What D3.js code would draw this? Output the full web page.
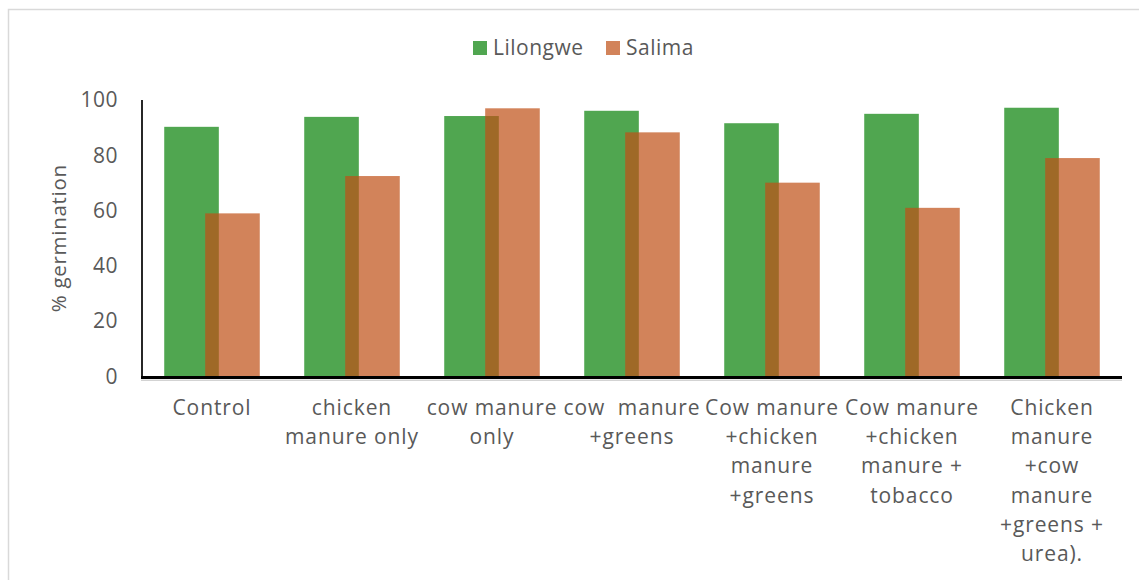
<!DOCTYPE html>
<html>
<head>
<meta charset="utf-8">
<script src="https://cdn.jsdelivr.net/npm/d3@7/dist/d3.min.js"></script>
<style>
  html, body { margin: 0; padding: 0; background: #fff; }
  svg { display: block; }
  text { font-family: "Open Sans", "Noto Sans", sans-serif; fill: #595959; }
</style>
</head>
<body>
<svg id="chart" width="1139" height="580"></svg>
<script>
// Treatments (x categories), each label split into its display lines
const categories = [
  "Control",
  "chicken manure only",
  "cow manure only",
  "cow  manure +greens",
  "Cow manure +chicken manure +greens",
  "Cow manure +chicken manure + tobacco",
  "Chicken manure +cow manure +greens + urea)."
];
const categoryLines = [
  ["Control"],
  ["chicken", "manure only"],
  ["cow manure", "only"],
  ["cow  manure", "+greens"],
  ["Cow manure", "+chicken", "manure", "+greens"],
  ["Cow manure", "+chicken", "manure +", "tobacco"],
  ["Chicken", "manure", "+cow", "manure", "+greens +", "urea)."]
];

// % germination by site
const seriesNames = ["Lilongwe", "Salima"];
const lilongwe = [90.3, 93.9, 94.2, 96.1, 91.6, 95.0, 97.2];
const salima   = [59.0, 72.5, 97.0, 88.3, 70.1, 61.0, 79.0];
const yTicks = [0, 20, 40, 60, 80, 100];

const colors = { Lilongwe: "rgb(80,166,80)", Salima: "rgb(192,81,23)" };
const salimaOpacity = 0.71;

const svg = d3.select("#chart");

// chart area frame
svg.append("rect")
  .attr("x", 8.5).attr("y", 9.5)
  .attr("width", 1400).attr("height", 900)
  .attr("fill", "none").attr("stroke", "#d9d9d9").attr("stroke-width", 1.5);

const plot = { left: 142, right: 1122, top: 100, bottom: 376.5 };

const x = d3.scaleBand().domain(categories).range([plot.left, plot.right]).padding(0);
const y = d3.scaleLinear().domain([0, 100]).range([plot.bottom, plot.top]);

const barW = x.bandwidth() * 0.39;
const step = barW * 0.75;            // bars overlap by a quarter of their width
const groupW = barW + step;

// Lilongwe bars
svg.append("g").selectAll("rect")
  .data(lilongwe)
  .join("rect")
  .attr("x", (d, i) => x(categories[i]) + x.bandwidth() / 2 - groupW / 2)
  .attr("y", d => y(d))
  .attr("width", barW)
  .attr("height", d => y(0) - y(d))
  .attr("fill", colors.Lilongwe);

// Salima bars, semi-transparent on top
svg.append("g").selectAll("rect")
  .data(salima)
  .join("rect")
  .attr("x", (d, i) => x(categories[i]) + x.bandwidth() / 2 - groupW / 2 + step)
  .attr("y", d => y(d))
  .attr("width", barW)
  .attr("height", d => y(0) - y(d))
  .attr("fill", colors.Salima)
  .attr("fill-opacity", salimaOpacity);

// y axis
const yAxis = svg.append("g")
  .attr("transform", `translate(${plot.left},0)`)
  .call(d3.axisLeft(y).tickValues(yTicks).tickSize(0).tickPadding(24).tickFormat(d3.format("d")));
yAxis.select(".domain").attr("stroke", "#000").attr("stroke-width", 1.7)
  .attr("d", `M0,${plot.top}V${plot.bottom + 1}`);
yAxis.selectAll("text")
  .style("font-size", "21px")
  .style("font-family", "'Open Sans', sans-serif")
  .attr("fill", "#595959")
  .attr("letter-spacing", "0.5px");

// x axis baseline
svg.append("line")
  .attr("x1", plot.left - 1).attr("x2", plot.right)
  .attr("y1", 380.2).attr("y2", 380.2)
  .attr("stroke", "#bfbfbf").attr("stroke-width", 1);
svg.append("line")
  .attr("x1", plot.left - 1).attr("x2", plot.right)
  .attr("y1", 377.5).attr("y2", 377.5)
  .attr("stroke", "#000").attr("stroke-width", 3);

// x category labels
const xl = svg.append("g");
categories.forEach((c, i) => {
  const t = xl.append("text")
    .attr("x", x(c) + x.bandwidth() / 2)
    .attr("y", 415)
    .attr("text-anchor", "middle")
    .style("font-size", "21px")
    .attr("letter-spacing", "0.9px")
    .attr("xml:space", "preserve");
  categoryLines[i].forEach((line, j) => {
    t.append("tspan")
      .attr("x", x(c) + x.bandwidth() / 2)
      .attr("y", 415 + j * 29.2)
      .text(line);
  });
});

// y axis title
svg.append("text")
  .attr("transform", `translate(66,${(plot.top + plot.bottom) / 2}) rotate(-90)`)
  .attr("text-anchor", "middle")
  .style("font-size", "20.5px")
  .attr("letter-spacing", "0.7px")
  .text("% germination");

// legend
const legendItems = [
  { name: seriesNames[0], x: 473, tx: 493 },
  { name: seriesNames[1], x: 606, tx: 626 }
];
const lg = svg.append("g");
legendItems.forEach(it => {
  lg.append("rect")
    .attr("x", it.x).attr("y", 41)
    .attr("width", 14).attr("height", 14)
    .attr("fill", colors[it.name])
    .attr("fill-opacity", it.name === "Salima" ? salimaOpacity : 1);
  lg.append("text")
    .attr("x", it.tx).attr("y", 55)
    .style("font-size", "21px")
    .attr("letter-spacing", "0.5px")
    .text(it.name);
});
</script>
</body>
</html>
